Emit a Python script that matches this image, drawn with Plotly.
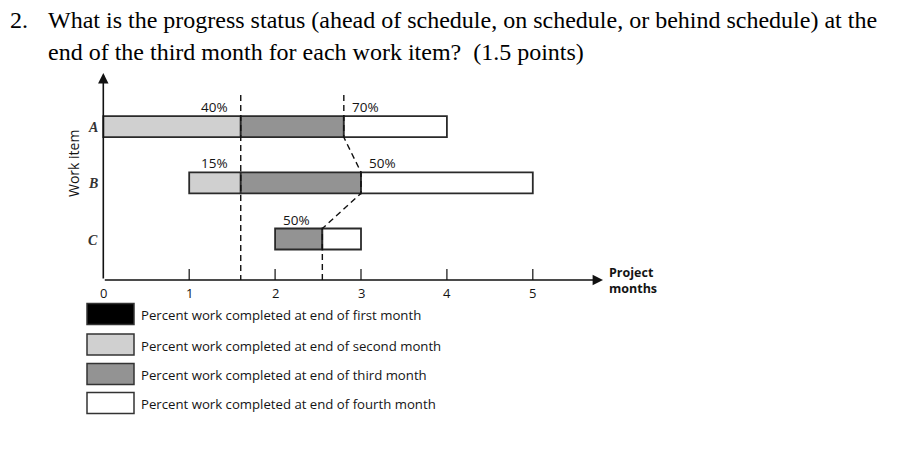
import plotly.graph_objects as go

# ---------------- data ----------------
items = ["A", "B", "C"]
row_pos = [3, 2, 1]                 # vertical position of each work item
start = [0, 1, 2]                   # planned start (month)
end = [4, 5, 3]                     # planned finish (month)
month2_end = [1.6, 1.6, None]       # progress line at end of 2nd month
month3_end = [2.8, 3.0, 2.55]       # progress line at end of 3rd month
pct2_labels = ["40%", "15%", ""]
pct3_labels = ["70%", "50%", "50%"]
pct3_side = ["right", "right", "left"]
x_ticks = [0, 1, 2, 3, 4, 5]
tick_labels = ["0", "1", "2", "3", "4", "5"]
legend_labels = [
    "Percent work completed at end of first month",
    "Percent work completed at end of second month",
    "Percent work completed at end of third month",
    "Percent work completed at end of fourth month",
]

# ---------------- styling / pixel mapping ----------------
OFF = 8                      # page body margin
W, H = 920 - OFF, 450 - OFF
PX_PER_X, X0_PX = 85.9, 103.3 - OFF
PX_PER_Y, ROW1_PX = 56.15, 239.0 - OFF
BAR_H = 21 / PX_PER_Y
HALF = BAR_H / 2

def px_x(p):
    return (p - OFF - X0_PX) / PX_PER_X

def px_y(p):
    return 1 + (ROW1_PX - (p - OFF)) / PX_PER_Y

def pap_x(p):
    return (p - OFF) / W

def pap_y(p):
    return 1 - (p - OFF) / H

AXIS_Y = px_y(280)
LINE_TOP = px_y(95)
C_BLACK = "#000000"
C_LIGHT = "#d0d0d0"
C_DARK = "#939393"
C_WHITE = "#ffffff"
EDGE = "#2a2a2a"
TXT = "#141414"
SANS = "Open Sans, DejaVu Sans, Arial, sans-serif"
SERIF = "Liberation Serif, Times New Roman, serif"

fig = go.Figure()

# month-2 segments (light grey)
b2_y, b2_base, b2_len = [], [], []
for r, s, m2 in zip(row_pos, start, month2_end):
    if m2 is not None:
        b2_y.append(r); b2_base.append(s); b2_len.append(m2 - s)
fig.add_trace(go.Bar(y=b2_y, x=b2_len, base=b2_base, orientation="h", width=BAR_H,
                     marker=dict(color=C_LIGHT, line=dict(color=EDGE, width=1.8)),
                     hoverinfo="skip"))

# month-3 segments (dark grey)
b3_base = [m2 if m2 is not None else s for s, m2 in zip(start, month2_end)]
b3_len = [m3 - b for m3, b in zip(month3_end, b3_base)]
fig.add_trace(go.Bar(y=row_pos, x=b3_len, base=b3_base, orientation="h", width=BAR_H,
                     marker=dict(color=C_DARK, line=dict(color=EDGE, width=1.8)),
                     hoverinfo="skip"))

# month-4 segments (white)
b4_len = [e - m3 for e, m3 in zip(end, month3_end)]
fig.add_trace(go.Bar(y=row_pos, x=b4_len, base=month3_end, orientation="h", width=BAR_H,
                     marker=dict(color=C_WHITE, line=dict(color=EDGE, width=1.8)),
                     hoverinfo="skip"))

# progress line, end of month 2
m2v = [v for v in month2_end if v is not None][0]
fig.add_trace(go.Scatter(x=[m2v, m2v], y=[LINE_TOP, AXIS_Y], mode="lines",
                         line=dict(color="#111", width=1.4, dash="6px,4px"),
                         hoverinfo="skip"))

# progress line, end of month 3 (zig-zag)
lx, ly = [month3_end[0]], [LINE_TOP]
for r, m3 in zip(row_pos, month3_end):
    lx += [m3, m3]
    ly += [r + HALF, r - HALF]
lx.append(month3_end[-1]); ly.append(AXIS_Y)
fig.add_trace(go.Scatter(x=lx, y=ly, mode="lines",
                         line=dict(color="#111", width=1.4, dash="6px,4px"),
                         hoverinfo="skip"))

annotations = []
shapes = []

# percent labels
for r, m2, lab in zip(row_pos, month2_end, pct2_labels):
    if m2 is not None and lab:
        annotations.append(dict(x=m2, y=r + HALF + 9 / PX_PER_Y, text=lab, showarrow=False,
                                xanchor="right", yanchor="middle", xshift=-11,
                                font=dict(family=SANS, size=13.5, color=TXT)))
for r, m3, lab, side in zip(row_pos, month3_end, pct3_labels, pct3_side):
    annotations.append(dict(x=m3, y=r + HALF + 9 / PX_PER_Y, text=lab, showarrow=False,
                            xanchor="left" if side == "right" else "right", yanchor="middle",
                            xshift=6 if side == "right" else -10,
                            font=dict(family=SANS, size=13.5, color=TXT)))

# row letters
for r, it in zip(row_pos, items):
    annotations.append(dict(x=px_x(93), y=r, text="<b><i>" + it + "</i></b>", showarrow=False,
                            xanchor="center", yanchor="middle", yshift=-1,
                            font=dict(family=SERIF, size=14, color="#333")))

# axis title "Work item"
annotations.append(dict(x=px_x(73), y=px_y(164), text="Work item", textangle=-90,
                        showarrow=False, xanchor="center", yanchor="middle",
                        font=dict(family=SANS, size=14, color=TXT)))

# axes with arrows
annotations.append(dict(x=px_x(603), y=AXIS_Y, ax=0, ay=AXIS_Y, axref="x", ayref="y",
                        xref="x", yref="y", text="", showarrow=True, arrowhead=2,
                        arrowsize=1.3, arrowwidth=1.6, arrowcolor="#111"))
annotations.append(dict(x=0, y=px_y(73), ax=0, ay=AXIS_Y, axref="x", ayref="y",
                        xref="x", yref="y", text="", showarrow=True, arrowhead=2,
                        arrowsize=1.3, arrowwidth=1.6, arrowcolor="#111"))

# ticks and tick labels
for t, tl in zip(x_ticks, tick_labels):
    if t > 0:
        shapes.append(dict(type="line", x0=t, x1=t, y0=AXIS_Y, y1=AXIS_Y + 11 / PX_PER_Y,
                           xref="x", yref="y", line=dict(color="#222", width=1.3)))
    annotations.append(dict(x=t, y=AXIS_Y, text=tl, showarrow=False, xanchor="center",
                            yanchor="top", yshift=-2,
                            font=dict(family=SANS, size=13, color=TXT)))

annotations.append(dict(x=px_x(607), y=px_y(280), text="<b>Project<br>months</b>",
                        showarrow=False, xanchor="left", yanchor="middle", align="left",
                        font=dict(family=SANS, size=12.5, color=TXT)))

# legend (drawn manually)
leg_fills = [C_BLACK, C_LIGHT, C_DARK, C_WHITE]
leg_centers = [314, 344.5, 374, 403]
for lab, col, cy in zip(legend_labels, leg_fills, leg_centers):
    shapes.append(dict(type="rect", xref="paper", yref="paper",
                       x0=pap_x(87), x1=pap_x(134), y0=pap_y(cy + 10.5), y1=pap_y(cy - 10.5),
                       fillcolor=col, line=dict(color="#333", width=1.5)))
    annotations.append(dict(x=pap_x(139), y=pap_y(cy + 1), xref="paper", yref="paper",
                            text=lab, showarrow=False, xanchor="left", yanchor="middle",
                            font=dict(family=SANS, size=13.2, color=TXT)))

# question text
TFONT = dict(family=SERIF, size=24, color="#000")
annotations.append(dict(x=pap_x(8), y=pap_y(20), xref="paper", yref="paper", text="2.",
                        showarrow=False, xanchor="left", yanchor="middle", font=TFONT))
annotations.append(dict(x=pap_x(46), y=pap_y(20), xref="paper", yref="paper",
                        text="What is the progress status (ahead of schedule, on schedule, or behind schedule) at the",
                        showarrow=False, xanchor="left", yanchor="middle", font=TFONT))
annotations.append(dict(x=pap_x(46), y=pap_y(52.5), xref="paper", yref="paper",
                        text="end of the third month for each work item?  (1.5 points)",
                        showarrow=False, xanchor="left", yanchor="middle", font=TFONT))

fig.update_layout(
    width=W, height=H, margin=dict(l=0, r=0, t=0, b=0),
    paper_bgcolor="white", plot_bgcolor="white",
    barmode="overlay", showlegend=False,
    xaxis=dict(range=[px_x(OFF), px_x(OFF + W)], visible=False, fixedrange=True),
    yaxis=dict(range=[px_y(OFF + H), px_y(OFF)], visible=False, fixedrange=True),
    annotations=annotations, shapes=shapes,
)

fig.write_html("out.html", config={"displayModeBar": False})
